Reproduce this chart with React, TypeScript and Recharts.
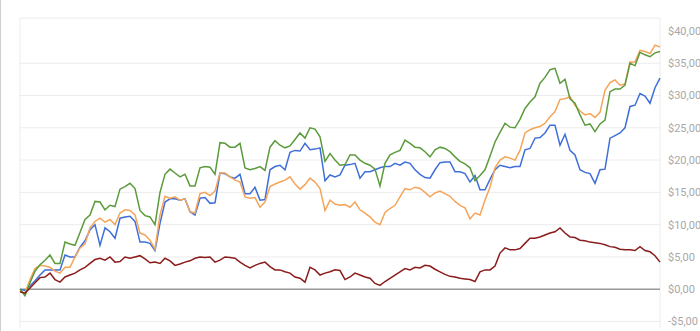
import { LineChart, Line, XAxis, YAxis, CartesianGrid, ReferenceLine } from 'recharts';

// one sample every ~5px across the plot, left to right
const greenSeries = [
  0, -1.0, 1.0, 2.8, 3.8, 4.5, 5.3, 4.0, 4.0, 7.3, 7.0, 6.8, 8.8, 10.8, 11.5, 13.6, 13.5, 12.3, 13.0, 12.8,
  15.5, 15.9, 16.4, 15.6, 12.2, 11.4, 11.2, 10.0, 15.0, 17.8, 18.6, 18.0, 17.4, 17.8, 16.0, 16.0, 18.8, 19.0, 18.9, 17.8,
  22.7, 22.6, 22.0, 22.0, 22.6, 18.8, 18.5, 18.7, 19.0, 18.4, 22.0, 23.0, 22.3, 21.9, 22.2, 23.2, 24.2, 23.4, 25.0, 24.8,
  23.6, 19.8, 21.0, 20.0, 19.2, 19.3, 20.8, 20.8, 20.0, 19.5, 19.2, 18.6, 16.0, 19.5, 20.8, 21.2, 21.5, 23.1, 22.6, 22.0,
  21.9, 21.3, 20.5, 21.6, 22.0, 21.8, 21.3, 20.5, 19.8, 19.4, 18.8, 16.8, 17.6, 18.5, 20.6, 22.8, 24.3, 25.7, 25.1, 25.0,
  26.3, 28.0, 29.0, 29.8, 31.9, 32.8, 34.0, 34.2, 31.9, 32.5, 29.5, 28.8, 27.0, 25.4, 25.6, 24.4, 25.6, 26.2, 30.6, 31.0,
  31.0, 31.6, 35.0, 34.6, 36.7, 36.3, 36.0, 36.6, 36.8,
];

const orangeSeries = [
  -0.3, -0.6, 1.5, 3.2, 3.7, 3.6, 3.4, 2.8, 2.5, 3.4, 3.4, 5.0, 6.4, 7.0, 9.5, 10.5, 11.0, 10.4, 10.8, 10.0,
  11.8, 12.3, 12.2, 11.5, 8.7, 8.4, 7.6, 6.2, 11.5, 14.4, 14.1, 14.3, 13.8, 14.0, 12.0, 11.8, 14.8, 15.0, 14.5, 15.2,
  18.0, 18.0, 17.4, 16.9, 16.6, 14.3, 14.1, 14.2, 12.7, 13.5, 15.9, 16.3, 16.6, 16.9, 17.4, 16.3, 15.5, 16.2, 17.2, 16.6,
  15.6, 12.2, 13.8, 13.2, 13.0, 13.1, 12.7, 13.5, 12.3, 11.8, 11.2, 10.4, 10.0, 11.9, 12.5, 13.0, 14.3, 15.6, 15.4, 15.8,
  15.6, 15.0, 14.3, 14.9, 15.2, 14.8, 14.4, 13.6, 13.0, 12.6, 10.9, 11.8, 11.5, 13.8, 15.8, 18.8, 20.0, 20.5, 20.3, 20.0,
  21.5, 24.2, 24.7, 25.0, 25.2, 25.7, 26.7, 27.5, 29.4, 29.5, 29.8, 28.5, 27.6, 27.0, 27.2, 26.6, 27.4, 30.8, 32.0, 32.4,
  31.6, 31.8, 35.2, 35.2, 37.0, 36.8, 36.5, 37.8, 37.5,
];

const blueSeries = [
  0, -0.2, 0.5, 1.3, 2.2, 3.0, 3.0, 3.0, 3.0, 5.3, 5.0, 5.0, 6.5, 7.5, 9.2, 10.0, 6.8, 9.5, 8.9, 7.9,
  11.0, 11.2, 11.3, 10.5, 7.3, 7.3, 7.1, 6.0, 10.2, 13.5, 14.0, 14.0, 13.8, 14.0, 12.0, 11.5, 14.1, 14.2, 13.3, 13.4,
  18.0, 17.9, 17.4, 17.2, 17.8, 14.8, 14.8, 15.8, 13.8, 13.9, 18.5, 19.0, 19.2, 18.5, 21.2, 21.5, 21.4, 22.6, 21.6, 21.7,
  21.9, 16.8, 17.7, 17.4, 17.7, 19.2, 19.3, 19.5, 17.2, 18.2, 18.2, 18.5, 18.8, 19.0, 19.0, 19.5, 19.2, 19.7, 19.5, 18.5,
  17.8, 17.3, 17.2, 18.5, 19.6, 19.7, 19.7, 18.2, 18.2, 17.9, 16.6, 17.6, 15.4, 15.4, 17.0, 18.5, 19.2, 19.0, 18.8, 19.0,
  19.0, 21.6, 21.8, 23.4, 23.5, 24.2, 25.4, 25.4, 22.3, 24.0, 21.5, 20.8, 18.5, 18.1, 17.9, 16.4, 18.5, 18.6, 23.4, 23.8,
  24.2, 25.0, 28.3, 28.5, 30.3, 29.9, 28.8, 31.2, 32.7,
];

const redSeries = [
  -0.4, -0.6, 0.2, 1.0, 1.8, 1.9, 2.5, 1.5, 1.1, 1.9, 2.2, 2.5, 3.0, 3.4, 4.0, 4.6, 4.8, 4.5, 5.0, 4.2,
  4.3, 5.0, 4.8, 5.0, 5.2, 4.7, 4.1, 4.2, 4.0, 4.8, 4.4, 3.7, 3.9, 4.2, 4.4, 4.8, 5.0, 4.9, 5.0, 4.2,
  4.5, 5.0, 4.9, 4.8, 4.2, 3.7, 3.3, 3.7, 4.0, 4.2, 3.5, 3.0, 3.0, 2.7, 2.5, 1.9, 1.7, 1.1, 3.4, 3.0,
  2.2, 2.5, 2.7, 3.0, 2.9, 1.5, 1.9, 2.5, 2.2, 1.9, 1.7, 0.9, 0.6, 1.2, 1.7, 2.2, 2.7, 3.2, 3.0, 3.4,
  3.3, 3.7, 3.6, 3.1, 2.7, 2.3, 2.0, 1.9, 1.7, 1.6, 1.5, 1.2, 2.7, 3.0, 3.0, 3.6, 5.6, 6.4, 6.1, 6.1,
  6.3, 7.1, 7.9, 7.9, 8.1, 8.4, 8.7, 8.9, 9.5, 8.7, 8.1, 8.0, 7.6, 7.5, 7.3, 7.2, 7.1, 6.9, 6.6, 6.5,
  6.2, 6.1, 6.1, 6.0, 6.6, 6.0, 5.8, 5.2, 4.2,
];

// vertical grid every ~16.4 samples, last one closes the plot on the right
const xTicks = [0, 16.4, 32.8, 49.1, 65.5, 81.9, 98.3, 114.7, 128];
const yTicks = [-5, 0, 5, 10, 15, 20, 25, 30, 35, 40];
const yGrid = [...yTicks, 42];

const data = greenSeries.map((g, i) => ({
  i,
  green: g,
  orange: orangeSeries[i],
  blue: blueSeries[i],
  red: redSeries[i],
}));

const fmtMoney = (v: number) => (v < 0 ? '-$' : '$') + Math.abs(v).toFixed(2).replace('.', ',');

export default function App() {
  return (
    <div style={{ position: 'fixed', left: 0, top: 0, width: 700, height: 331, background: '#fff' }}>
      <div style={{ position: 'absolute', left: 0, top: 0, width: 1, height: 331, background: '#cfcfcf' }} />
      <LineChart width={700} height={331} data={data} margin={{ top: 18, right: 0, bottom: 3, left: 20 }}>
        <CartesianGrid stroke="#ececec" horizontalValues={yGrid} />
        <XAxis dataKey="i" type="number" domain={[0, 128]} ticks={xTicks} tick={false} tickLine={false} axisLine={false} height={0} />
        <YAxis
          orientation="right"
          domain={[-6, 42]}
          ticks={yTicks}
          tickFormatter={fmtMoney}
          tickLine={false}
          axisLine={false}
          width={40}
          tick={{ fill: '#a8a8a8', fontSize: 11, fontFamily: 'Roboto', textAnchor: 'start' }}
        />
        <ReferenceLine y={0} stroke="#9a9a9a" strokeWidth={1.5} />
        <Line dataKey="blue" stroke="#3f6fd8" strokeWidth={1.5} dot={false} isAnimationActive={false} />
        <Line dataKey="orange" stroke="#f5a55a" strokeWidth={1.5} dot={false} isAnimationActive={false} />
        <Line dataKey="green" stroke="#5b9b3c" strokeWidth={1.5} dot={false} isAnimationActive={false} />
        <Line dataKey="red" stroke="#8b1c1c" strokeWidth={1.5} dot={false} isAnimationActive={false} />
      </LineChart>
    </div>
  );
}
